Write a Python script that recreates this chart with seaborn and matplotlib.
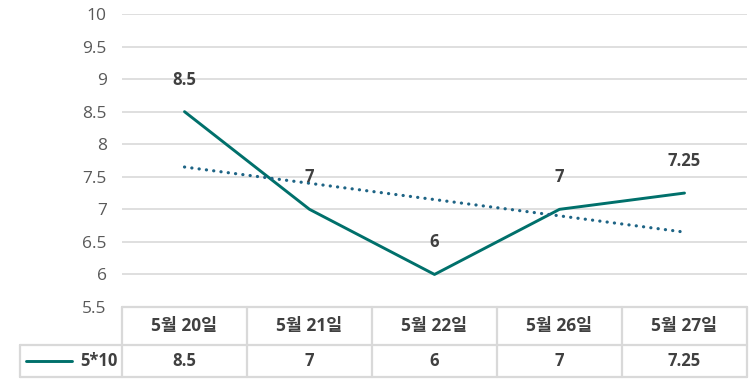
import numpy as np
import pandas as pd
import seaborn as sns
import matplotlib
matplotlib.use("Agg")
import matplotlib.pyplot as plt
from matplotlib.lines import Line2D

# Data
categories = ["5월 20일", "5월 21일", "5월 22일", "5월 26일", "5월 27일"]
values = [8.5, 7, 6, 7, 7.25]
value_labels = ["8.5", "7", "6", "7", "7.25"]
series_name = "5*10"
yticks = [5.5, 6, 6.5, 7, 7.5, 8, 8.5, 9, 9.5, 10]

sns.set_theme(style="white")
plt.rcParams["font.family"] = ["Open Sans", "Noto Sans CJK KR", "DejaVu Sans"]

W, H = 754, 385
fig = plt.figure(figsize=(W / 100, H / 100), dpi=100)
fig.patch.set_facecolor("white")

# plot area in pixel coordinates
px_left, px_right, px_top, px_bottom = 122, 747, 14, 307
ax = fig.add_axes([px_left / W, 1 - px_bottom / H,
                   (px_right - px_left) / W, (px_bottom - px_top) / H])

line_color = "#00706b"
trend_color = "#1e6485"
grid_color = "#d9d9d9"
text_color = "#404040"
tick_color = "#595959"

df = pd.DataFrame({"x": np.arange(len(categories)), "y": values})
sns.lineplot(data=df, x="x", y="y", ax=ax, color=line_color, linewidth=2.1)

# linear trendline
coef = np.polyfit(df["x"], df["y"], 1)
trend = pd.DataFrame({"x": df["x"], "y": np.polyval(coef, df["x"])})
sns.lineplot(data=trend, x="x", y="y", ax=ax, color=trend_color,
             linewidth=2.3, linestyle=(0, (0.05, 2.25)))
ax.lines[-1].set_dash_capstyle("round")

ax.set_xlim(-0.5, len(categories) - 0.5)
ax.set_ylim(5.5, 10)
ax.set_yticks(yticks)
ax.set_yticklabels([f"{t:g}" for t in yticks], color=tick_color, fontsize=12.5)
ax.tick_params(axis="y", length=0, pad=11)
ax.set_xticks([])
ax.set_xlabel("")
ax.set_ylabel("")
for s in ax.spines.values():
    s.set_visible(False)
for t in yticks:
    ax.axhline(t, color=grid_color, linewidth=1.2, zorder=0)

# data labels
for xi, (v, lab) in enumerate(zip(values, value_labels)):
    ax.annotate(lab, (xi, v), xytext=(0, 23), textcoords="offset points",
                ha="center", va="center", fontsize=12, fontweight="bold",
                color=text_color)

# data table below the plot
def fx(px):
    return px / W

def fy(py):
    return 1 - py / H

row1_top, row1_bot, row2_bot = 307, 345, 377
legend_left = 20
col_edges = [px_left + i * (px_right - px_left) / len(categories)
             for i in range(len(categories) + 1)]

def hline(y, x0, x1):
    fig.add_artist(Line2D([fx(x0), fx(x1)], [fy(y), fy(y)],
                          color=grid_color, linewidth=1.6))

def vline(x, y0, y1):
    fig.add_artist(Line2D([fx(x), fx(x)], [fy(y0), fy(y1)],
                          color=grid_color, linewidth=1.6))

hline(row1_top, px_left, px_right)
hline(row1_bot, legend_left, px_right)
hline(row2_bot, legend_left, px_right)
vline(legend_left, row1_bot, row2_bot)
for xe in col_edges:
    vline(xe, row1_top, row2_bot)

for i, (cat, lab) in enumerate(zip(categories, value_labels)):
    cx = (col_edges[i] + col_edges[i + 1]) / 2
    fig.text(fx(cx), fy((row1_top + row1_bot) / 2), cat, ha="center",
             va="center", fontsize=12.5, fontweight="bold", color=text_color)
    fig.text(fx(cx), fy((row1_bot + row2_bot) / 2), lab, ha="center",
             va="center", fontsize=12, fontweight="bold", color=text_color)

# legend key in the table
ly = (row1_bot + row2_bot) / 2
fig.add_artist(Line2D([fx(26), fx(72)], [fy(ly), fy(ly)],
                      color=line_color, linewidth=2.1))
fig.text(fx(118), fy(ly), series_name, ha="right", va="center",
         fontsize=12, fontweight="bold", color=text_color)

fig.savefig("out.png", dpi=100, facecolor="white")
